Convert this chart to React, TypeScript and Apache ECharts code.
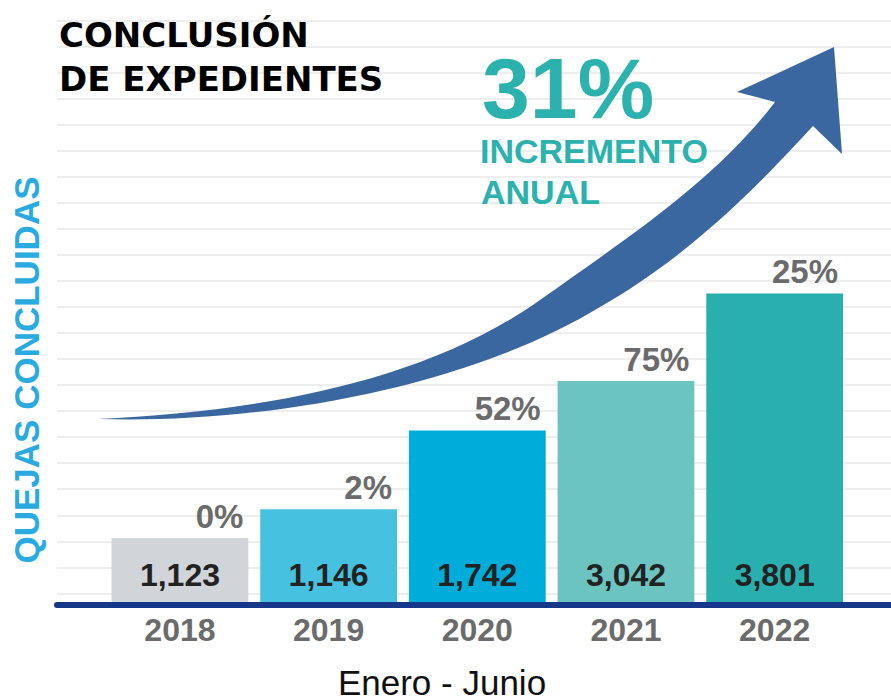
import React, { useEffect, useRef } from "react";
import * as echarts from "echarts";

// ---- data ----
const years = ["2018", "2019", "2020", "2021", "2022"];
const concluded = [1123, 1146, 1742, 3042, 3801];
const growthPct = [0, 2, 52, 75, 25];
// bar heights as drawn in the infographic (not to scale with the counts),
// measured in steps of the background ruling
const barLevel = [2.46, 3.57, 6.6, 8.5, 11.87];
const annualIncrease = 31;

const titleLines = ["CONCLUSIÓN", "DE EXPEDIENTES"];
const increaseLines = ["INCREMENTO", "ANUAL"];
const yName = "QUEJAS CONCLUIDAS";
const xName = "Enero - Junio";

// ---- styles ----
const barColors = ["#d1d4d9", "#46c2e0", "#00acd9", "#6cc4c1", "#2aafaf"];
const FONT = "'Liberation Sans', Arial, Helvetica, sans-serif";
const TEAL = "#2bb1ae";

const ARROW_D =
  "M98,419 C250,412 420,385 540,300 C636,232 715,180 775,102 L737,92 L834,47 L842,154 L813,126 C770,172 700,250 600,307 C460,392 250,424 98,419 Z";

let registered = false;
function registerArrow() {
  if (registered) return;
  echarts.graphic.registerShape("arrowShape", echarts.graphic.extendPath(ARROW_D, {}));
  registered = true;
}

export default function App() {
  const ref = useRef<HTMLDivElement>(null);
  useEffect(() => {
    if (!ref.current) return;
    registerArrow();
    const chart = echarts.init(ref.current, null, { renderer: "svg" });
    const txt = (text: string, x: number, y: number, size: number, color: string, opts: any = {}) => ({
      type: "text",
      x,
      y,
      z: 100,
      rotation: opts.rotation || 0,
      style: {
        text,
        fill: color,
        fontSize: size,
        lineHeight: opts.lineHeight || Math.round(size * 1.1),
        fontWeight: opts.weight || "bold",
        fontFamily: opts.family || FONT,
        align: opts.align || "left",
        textAlign: opts.align || "left",
        verticalAlign: "middle",
        textVerticalAlign: "middle",
      },
    });
    const option: any = {
      animation: false,
      textStyle: { fontFamily: FONT },
      grid: [
        { left: 105.6, right: 42, top: 30, bottom: 98 },
        { left: 57, right: 0, top: 21, bottom: 95 },
      ],
      xAxis: [
        {
          gridIndex: 0,
          type: "category",
          data: years,
          axisLine: { show: false },
          axisTick: { show: false },
          axisLabel: { margin: 12, color: "#6b6b6b", fontSize: 32, fontWeight: "bold", fontFamily: FONT },
        },
        {
          gridIndex: 1,
          type: "value",
          min: 0,
          max: 1,
          z: 5,
          axisLine: { show: true, onZero: false, lineStyle: { color: "#15388a", width: 6 } },
          axisTick: { show: false },
          axisLabel: { show: false },
          splitLine: { show: false },
        },
      ],
      yAxis: [
        { gridIndex: 0, type: "value", min: 0, max: 22, show: false },
        {
          gridIndex: 1,
          type: "value",
          inverse: true,
          min: 0,
          max: 22.45,
          interval: 1,
          axisLine: { show: false },
          axisTick: { show: false },
          axisLabel: { show: false },
          splitLine: { show: true, lineStyle: { color: "#e8e8e8", width: 1.5 } },
        },
      ],
      series: [
        {
          type: "bar",
          xAxisIndex: 0,
          yAxisIndex: 0,
          z: 2,
          barCategoryGap: "8%",
          data: barLevel.map((v, i) => ({ value: v, itemStyle: { color: barColors[i] } })),
          label: {
            show: true,
            position: "insideBottom",
            distance: 11,
            formatter: (p: any) => concluded[p.dataIndex].toLocaleString("en-US"),
            color: "#222",
            fontSize: 32,
            fontWeight: "bold",
            fontFamily: FONT,
          },
        },
        {
          type: "bar",
          xAxisIndex: 0,
          yAxisIndex: 0,
          z: 3,
          silent: true,
          barGap: "-100%",
          barCategoryGap: "8%",
          data: barLevel,
          itemStyle: { color: "rgba(0,0,0,0)" },
          label: {
            show: true,
            position: ["100%", 0],
            offset: [-5, -5],
            align: "right",
            verticalAlign: "bottom",
            formatter: (p: any) => growthPct[p.dataIndex] + "%",
            color: "#6b6b6b",
            fontSize: 33,
            fontWeight: "bold",
            fontFamily: FONT,
          },
        },
      ],
      graphic: [
        {
          type: "arrowShape",
          x: 0,
          y: 0,
          scaleX: 1,
          scaleY: 1,
          z: 50,
          style: { fill: "#3a67a0" },
        },
        txt(titleLines[0], 59, 35, 34, "#000", { family: "'DejaVu Sans', sans-serif" }),
        txt(titleLines[1], 59, 78.5, 34, "#000", { family: "'DejaVu Sans', sans-serif" }),
        txt(annualIncrease + "%", 482, 88, 86, TEAL, { lineHeight: 70 }),
        txt(increaseLines[0], 480, 150.5, 34, TEAL, { lineHeight: 34 }),
        txt(increaseLines[1], 481, 191.7, 34, TEAL, { lineHeight: 34 }),
        txt(yName, 26.5, 370, 35, "#29abe2", { align: "center", rotation: Math.PI / 2 }),
        txt(xName, 442, 682, 35, "#111", { align: "center", weight: "normal", lineHeight: 30 }),
      ],
    };
    chart.setOption(option);
    return () => chart.dispose();
  }, []);
  return (
    <div
      ref={ref}
      style={{ position: "fixed", left: 0, top: 0, width: 891, height: 700, background: "#fff" }}
    />
  );
}
